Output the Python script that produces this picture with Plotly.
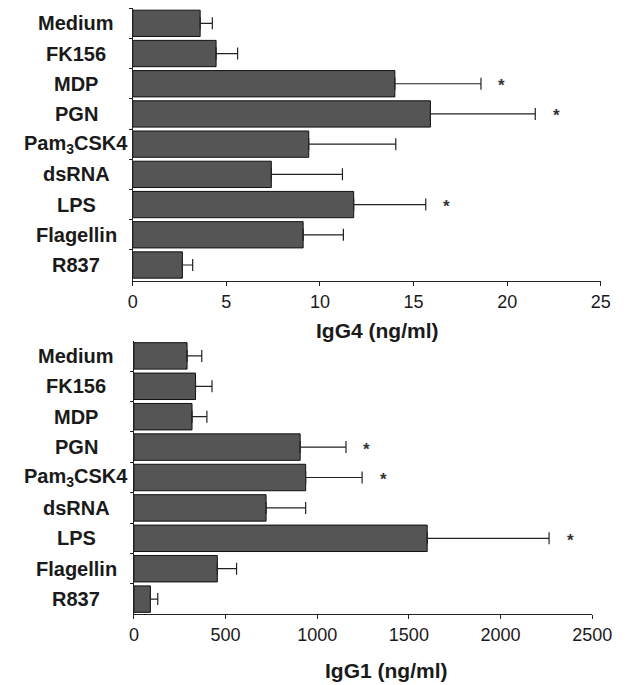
import plotly.graph_objects as go

categories = ["Medium", "FK156", "MDP", "PGN", "Pam<sub>3</sub>CSK4", "dsRNA", "LPS", "Flagellin", "R837"]

igg4_values = [3.6, 4.45, 14.0, 15.9, 9.4, 7.4, 11.8, 9.1, 2.65]
igg4_errors = [0.65, 1.15, 4.6, 5.6, 4.65, 3.8, 3.85, 2.15, 0.55]
igg4_sig = ["MDP", "PGN", "LPS"]

igg1_values = [290, 336, 317, 907, 937, 721, 1600, 455, 90]
igg1_errors = [80, 90, 81, 250, 308, 216, 665, 105, 40]
igg1_sig = ["PGN", "Pam<sub>3</sub>CSK4", "LPS"]

x_ticks_top = [0, 5, 10, 15, 20, 25]
x_ticks_bottom = [0, 500, 1000, 1500, 2000, 2500]

# page body has an 8px default margin: size the figure so it fills the 640x685 window
OFF = 8
W, H = 640 - OFF, 685 - OFF
FONT = "Liberation Sans, Arial, Helvetica, sans-serif"
BAR = "#555555"


def px(x):  # window pixel -> paper x
    return (x - OFF) / W


def py(y):  # window pixel -> paper y
    return 1 - (y - OFF) / H


fig = go.Figure()


def add_bars(vals, errs, xa, ya):
    fig.add_trace(go.Bar(
        y=categories, x=vals, orientation="h",
        xaxis=xa, yaxis=ya, width=0.87,
        marker=dict(color=BAR, line=dict(color="#111111", width=1)),
        error_x=dict(type="data", symmetric=False, array=errs,
                     arrayminus=[0] * len(errs), color="#222222",
                     thickness=1.2, width=6),
        showlegend=False,
    ))


add_bars(igg4_values, igg4_errors, "x", "y")
add_bars(igg1_values, igg1_errors, "x2", "y2")

top_x = [px(132.7), px(620.0)]
bot_x = [px(133.9), px(611.0)]
top_y = [py(281), py(8)]
bot_y = [py(614), py(341)]

xcommon = dict(showgrid=False, zeroline=False, showline=True, linecolor="#222222",
               linewidth=1.2, ticks="outside", ticklen=4, tickcolor="#222222",
               tickfont=dict(family=FONT, size=18, color="#1a1a1a"))
ycommon = dict(showgrid=False, zeroline=False, showline=True, linecolor="#222222",
               linewidth=1.2, ticks="outside", ticklen=3, tickcolor="#222222",
               tickson="boundaries", showticklabels=False, type="category")

fig.update_layout(
    width=W, height=H,
    margin=dict(l=0, r=0, t=0, b=0),
    paper_bgcolor="white", plot_bgcolor="white",
    bargap=0.13,
    xaxis=dict(domain=top_x, range=[0, 25], tickvals=x_ticks_top, anchor="y", **xcommon),
    yaxis=dict(domain=top_y, range=[8.53, -0.507], anchor="x", **ycommon),
    xaxis2=dict(domain=bot_x, range=[0, 2500], tickvals=x_ticks_bottom, anchor="y2", **xcommon),
    yaxis2=dict(domain=bot_y, range=[8.49, -0.49], anchor="x2", **ycommon),
)

annotations = []
label_font = dict(family=FONT, size=20, color="#1a1a1a")
for yref in ["y", "y2"]:
    for c in categories:
        annotations.append(dict(x=px(74), xref="paper", y=c, yref=yref, text="<b>" + c + "</b>",
                                showarrow=False, xanchor="center", yanchor="middle", font=label_font))

star_font = dict(family=FONT, size=17, color="#333333")
for vals, errs, sig, xr, yr in [(igg4_values, igg4_errors, igg4_sig, "x", "y"),
                                (igg1_values, igg1_errors, igg1_sig, "x2", "y2")]:
    for c, v, e in zip(categories, vals, errs):
        if c in sig:
            annotations.append(dict(x=v + e, xref=xr, y=c, yref=yr, text="<b>*</b>", showarrow=False,
                                    xanchor="center", yanchor="middle", xshift=21, yshift=-2,
                                    font=star_font))

title_font = dict(family=FONT, size=21, color="#1a1a1a")
annotations.append(dict(x=px(388), xref="paper", y=py(330), yref="paper", text="<b>IgG4 (ng/ml)</b>",
                        showarrow=False, xanchor="center", yanchor="middle", font=title_font))
annotations.append(dict(x=px(397), xref="paper", y=py(670), yref="paper", text="<b>IgG1 (ng/ml)</b>",
                        showarrow=False, xanchor="center", yanchor="middle", font=title_font))

fig.update_layout(annotations=annotations)

fig.write_html("out.html")
